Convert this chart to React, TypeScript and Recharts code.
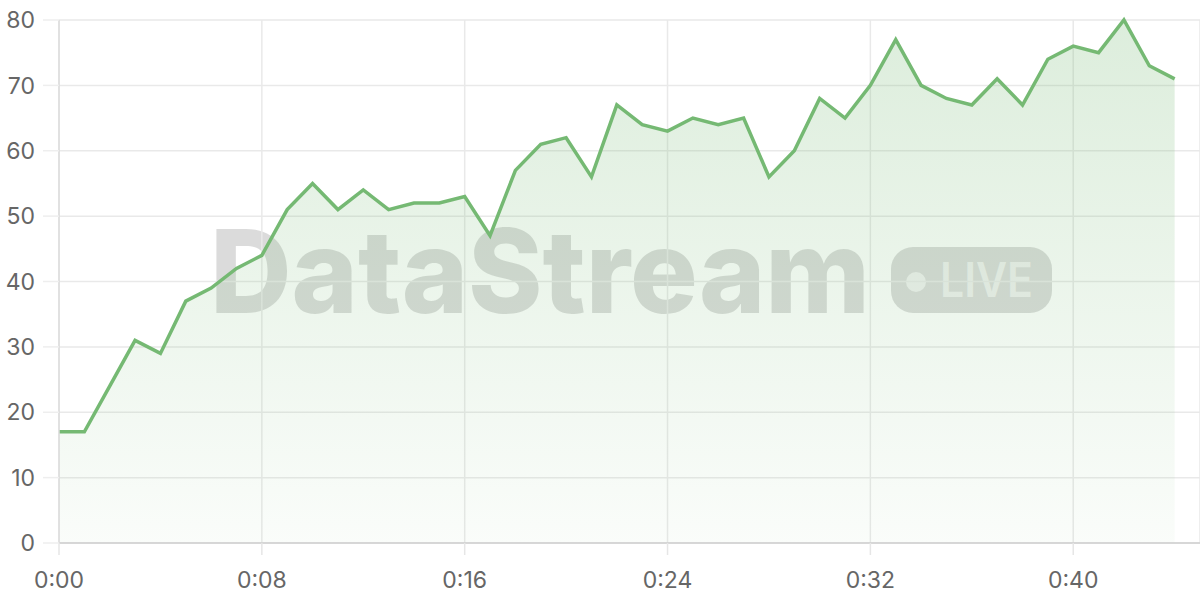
import React from "react";
import {
  AreaChart,
  Area,
  XAxis,
  YAxis,
  CartesianGrid,
} from "recharts";

const seconds: number[] = [
  0, 1, 2, 3, 4, 5, 6, 7, 8, 9, 10, 11, 12, 13, 14, 15, 16, 17, 18, 19, 20, 21,
  22, 23, 24, 25, 26, 27, 28, 29, 30, 31, 32, 33, 34, 35, 36, 37, 38, 39, 40,
  41, 42, 43, 44,
];
const values: number[] = [
  17, 17, 24, 31, 29, 37, 39, 42, 44, 51, 55, 51, 54, 51, 52, 52, 53, 47, 57,
  61, 62, 56, 67, 64, 63, 65, 64, 65, 56, 60, 68, 65, 70, 77, 70, 68, 67, 71,
  67, 74, 76, 75, 80, 73, 71,
];
const xTicks: number[] = [0, 8, 16, 24, 32, 40];
const yTicks: number[] = [0, 10, 20, 30, 40, 50, 60, 70, 80];

const data = seconds.map((t, i) => ({ t, v: values[i] }));

const fmtTime = (s: number) => {
  const m = Math.floor(s / 60);
  const r = s % 60;
  return `${m}:${r < 10 ? "0" : ""}${r}`;
};

const tickStyle = { fill: "#666", fontSize: 23, fontFamily: "Inter, 'Noto Sans', sans-serif" };

export default function App() {
  return (
    <div style={{ position: "absolute", left: 0, top: 0, width: 1200, height: 600, background: "#fff" }}>
      <svg
        width={1200}
        height={600}
        style={{ position: "absolute", left: 0, top: 0 }}
      >
        <text
          x={210}
          y={313}
          textLength={660}
          lengthAdjust="spacingAndGlyphs"
          fontFamily="Inter, 'Noto Sans', sans-serif"
          fontWeight={800}
          fontSize={116}
          fill="#000"
          fillOpacity={0.14}
        >
          DataStream
        </text>
        <rect x={891} y={247} width={161} height={66} rx={22} fill="#000" fillOpacity={0.14} />
        <circle cx={916} cy={282} r={10} fill="#fff" fillOpacity={0.6} />
        <text
          x={940}
          y={297}
          textLength={93}
          lengthAdjust="spacingAndGlyphs"
          fontFamily="Inter, 'Noto Sans', sans-serif"
          fontWeight={600}
          fontSize={48}
          fill="#fff"
          fillOpacity={0.6}
        >
          LIVE
        </text>
      </svg>
      <div style={{ position: "absolute", left: 0, top: 0 }}>
        <AreaChart
          width={1200}
          height={600}
          data={data}
          margin={{ top: 20, right: 0, bottom: 0, left: 0 }}
        >
          <defs>
            <linearGradient id="areaFill" x1="0" y1="0" x2="0" y2="1">
              <stop offset="0%" stopColor="#76b974" stopOpacity={0.42} />
              <stop offset="100%" stopColor="#76b974" stopOpacity={0.06} />
            </linearGradient>
          </defs>
          <CartesianGrid stroke="#e9e9e9" strokeWidth={1.5} />
          <XAxis
            dataKey="t"
            type="number"
            domain={[0, 45]}
            ticks={xTicks}
            tickFormatter={fmtTime}
            height={57}
            tickSize={12}
            tickMargin={17}
            tick={tickStyle}
            stroke="#cfcfcf"
            strokeWidth={1.5}
            tickLine={{ stroke: "#e6e6e6" }}
          />
          <YAxis
            type="number"
            domain={[0, 80]}
            ticks={yTicks}
            width={59}
            tickSize={16}
            tickMargin={8}
            tick={tickStyle}
            stroke="#dddddd"
            strokeWidth={1.5}
            tickLine={{ stroke: "#eeeeee" }}
          />
          <Area
            type="linear"
            dataKey="v"
            stroke="#75b973"
            strokeWidth={3.5}
            fill="url(#areaFill)"
            isAnimationActive={false}
            dot={false}
            activeDot={false}
          />
        </AreaChart>
      </div>
    </div>
  );
}
